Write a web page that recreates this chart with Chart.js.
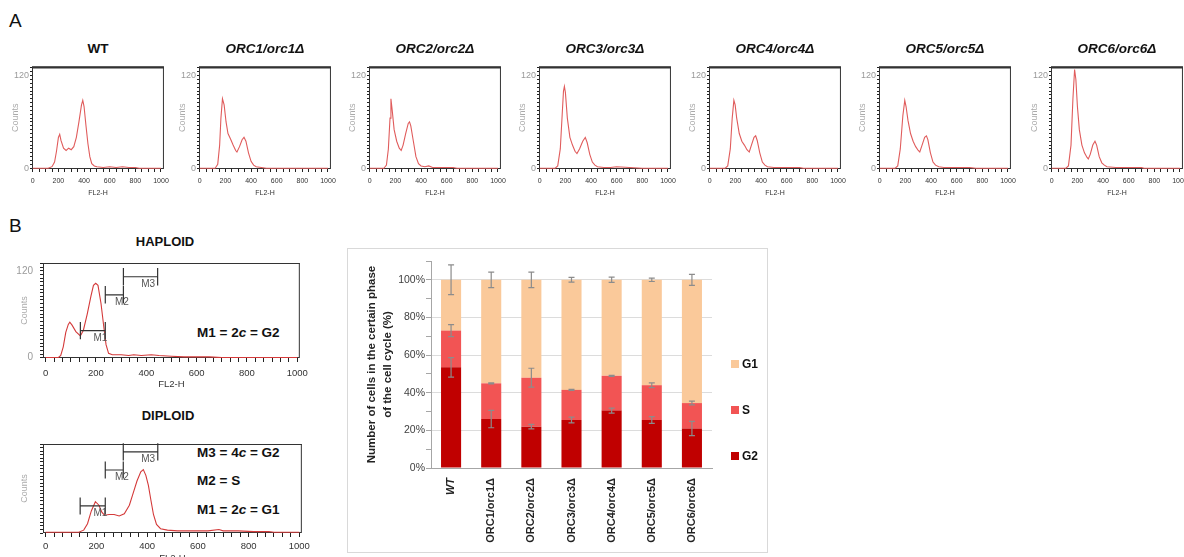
<!DOCTYPE html>
<html>
<head>
<meta charset="utf-8">
<script src="https://cdn.jsdelivr.net/npm/chart.js@4.4.1/dist/chart.umd.min.js"></script>
<style>
  body { margin:0; width:1184px; height:557px; position:relative; overflow:hidden; background:#fff;
         font-family: Arial, "Liberation Sans", sans-serif; color:#111; }
  canvas { position:absolute; }
  .c { position:absolute; white-space:nowrap; transform:translate(-50%,-50%); font-weight:bold; }
  .l { position:absolute; white-space:nowrap; transform:translateY(-50%); font-weight:bold; }
  #frame { position:absolute; left:347px; top:248px; width:421px; height:305px; border:1px solid #d9d9d9; box-sizing:border-box; }
  .sw { position:absolute; width:8px; height:8px; }
</style>
</head>
<body>
<div class="l" style="left:9px;top:21px;font-size:19px;font-weight:normal">A</div>
<div class="l" style="left:9px;top:226px;font-size:19px;font-weight:normal">B</div>
<div id="frame"></div>

<div class="c" style="left:165px;top:241px;font-size:13px">HAPLOID</div>
<div class="c" style="left:168px;top:415px;font-size:13px">DIPLOID</div>
<div class="l" style="left:197px;top:332px;font-size:13.5px">M1 = 2<i>c</i> = G2</div>
<div class="l" style="left:197px;top:452px;font-size:13.5px">M3 = 4<i>c</i> = G2</div>
<div class="l" style="left:197px;top:480px;font-size:13.5px">M2 = S</div>
<div class="l" style="left:197px;top:509px;font-size:13.5px">M1 = 2<i>c</i> = G1</div>

<canvas id="bars" width="419" height="303" style="left:348px;top:249px"></canvas>
<canvas id="haploid" width="309" height="140" style="left:5px;top:250px"></canvas>
<canvas id="diploid" width="309" height="134" style="left:5px;top:431px"></canvas>

<script>
// strains (panel A titles and bar categories)
const strains = ['WT', 'ORC1/orc1Δ', 'ORC2/orc2Δ', 'ORC3/orc3Δ', 'ORC4/orc4Δ', 'ORC5/orc5Δ', 'ORC6/orc6Δ'];

// FL2-H histograms, [channel, counts]
const wtHist = [[0,0],[120,0],[150,2],[170,8],[185,22],[200,40],[210,44],[220,36],[240,26],[260,23],[280,26],[300,24],[320,28],[340,40],[360,60],[380,82],[390,88],[400,80],[415,55],[430,32],[445,15],[460,6],[480,3],[500,2],[550,1],[600,2],[650,1],[700,2],[750,1],[800,1],[830,0],[1000,0]];
const orc1Hist = [[0,0],[120,0],[140,5],[155,30],[165,65],[177,90],[190,82],[205,60],[220,45],[240,38],[260,30],[280,23],[290,21],[310,28],[330,37],[345,40],[360,35],[380,20],[400,9],[420,4],[440,2],[480,1],[520,0],[1000,0]];
const orc2Hist = [[0,0],[110,0],[130,4],[145,25],[158,65],[165,90],[175,75],[190,50],[210,35],[230,26],[245,23],[260,30],[280,45],[300,58],[310,60],[320,55],[340,35],[360,15],[380,6],[400,3],[430,2],[460,3],[490,1],[550,1],[600,1],[650,1],[680,0],[1000,0]];
const orc3Hist = [[0,0],[120,0],[140,3],[160,25],[175,70],[185,100],[192,106],[200,98],[215,65],[235,40],[255,30],[275,22],[290,19],[310,25],[335,35],[355,40],[370,33],[390,18],[410,8],[430,4],[450,2],[500,1],[550,1],[600,2],[700,1],[800,0],[1000,0]];
const orc4Hist = [[0,0],[120,0],[140,3],[160,25],[175,65],[188,88],[198,82],[210,65],[230,45],[250,35],[270,30],[290,24],[308,21],[325,30],[345,40],[358,42],[370,36],[390,20],[410,8],[430,4],[450,2],[500,1],[600,1],[700,1],[730,0],[1000,0]];
const orc5Hist = [[0,0],[120,0],[140,3],[160,25],[180,68],[195,88],[205,80],[220,62],[240,45],[260,35],[280,28],[300,23],[312,21],[330,30],[350,40],[364,42],[375,37],[395,20],[415,8],[435,4],[460,2],[500,1],[600,1],[700,1],[750,0],[1000,0]];
const orc6Hist = [[0,0],[110,0],[130,3],[150,30],[165,90],[178,128],[188,115],[200,80],[215,50],[235,30],[255,20],[275,14],[285,12],[300,18],[320,30],[337,35],[350,30],[370,15],[390,7],[410,4],[430,2],[500,1],[600,1],[700,1],[720,0],[1000,0]];
const haploidHist = [[0,0],[50,0],[60,3],[70,15],[80,35],[90,46],[96,49],[105,45],[120,36],[138,30],[150,38],[165,60],[180,85],[190,100],[199,103],[208,100],[220,75],[232,40],[240,18],[250,6],[265,4],[300,4],[330,3],[350,4],[380,3],[420,4],[450,3],[500,2],[550,1],[600,1],[650,1],[700,0],[1000,0]];
const diploidHist = [[0,0],[130,0],[150,3],[165,12],[180,30],[196,43],[210,38],[222,28],[232,24],[250,25],[270,25],[290,23],[310,26],[330,38],[345,55],[360,72],[375,85],[385,88],[395,80],[405,66],[415,45],[425,25],[437,11],[453,5],[480,3],[520,2],[580,2],[640,2],[683,4],[700,2],[760,2],[820,1],[880,1],[900,0],[1000,0]];

// marker gates (channel range, height in counts)
const haploidGates = [{name:'M1', from:138, to:237, y:37.5}, {name:'M2', from:237, to:309, y:87}, {name:'M3', from:309, to:445, y:112}];
const diploidGates = [{name:'M1', from:136, to:235, y:37}, {name:'M2', from:235, to:306, y:87.5}, {name:'M3', from:306, to:442, y:113}];

// cell cycle phases (%), stacked bottom to top
const g2Pct = [53.5, 26, 22, 25.5, 30.5, 25.5, 21];
const sPct  = [19.5, 19, 26, 16, 18.5, 18.5, 13.5];
const g1Pct = [27, 55, 52, 58.5, 51, 56, 65.5];
const g2Err = [5.2, 4.6, 1.2, 1.5, 1.3, 1.8, 3.8];
const sErr  = [3.2, 0.3, 5, 0.3, 0.3, 1.25, 1];
const g1Err = [7.9, 4.1, 4.1, 1.25, 1.4, 0.9, 2.9];

Chart.defaults.font.family = 'Arial, "Liberation Sans", sans-serif';

const boxPlugin = {
  id: 'box',
  beforeDatasetsDraw(chart, args, opts) {
    const { ctx, chartArea: a } = chart;
    ctx.save();
    ctx.strokeStyle = opts.color || '#333';
    ctx.lineWidth = 1;
    ctx.strokeRect(a.left + 0.5, a.top + 0.5, a.right - a.left - 1, a.bottom - a.top - 1);
    if (opts.topWidth) {
      ctx.lineWidth = opts.topWidth;
      ctx.beginPath();
      ctx.moveTo(a.left, a.top + opts.topWidth / 2);
      ctx.lineTo(a.right, a.top + opts.topWidth / 2);
      ctx.stroke();
    }
    ctx.restore();
  }
};

const gatePlugin = {
  id: 'gates',
  afterDatasetsDraw(chart, args, opts) {
    const list = opts.list || [];
    if (!list.length) return;
    const { ctx, scales: { x, y } } = chart;
    ctx.save();
    ctx.strokeStyle = '#333';
    ctx.lineWidth = 1.2;
    ctx.fillStyle = '#555';
    ctx.font = '10px Arial, "Liberation Sans", sans-serif';
    ctx.textAlign = 'center';
    ctx.textBaseline = 'middle';
    list.forEach(g => {
      const x0 = x.getPixelForValue(g.from), x1 = x.getPixelForValue(g.to);
      const yy = y.getPixelForValue(g.y);
      const yt = y.getPixelForValue(g.y + 12), yb = y.getPixelForValue(g.y - 12);
      ctx.beginPath();
      ctx.moveTo(x0, yy); ctx.lineTo(x1, yy);
      ctx.moveTo(x0, yt); ctx.lineTo(x0, yb);
      ctx.moveTo(x1, yt); ctx.lineTo(x1, yb);
      ctx.stroke();
      ctx.fillText(g.name, x.getPixelForValue((g.from + g.to) / 2 + 30), y.getPixelForValue(g.y - 10));
    });
    ctx.restore();
  }
};

function histogram(canvas, points, o) {
  return new Chart(canvas, {
    type: 'line',
    data: {
      datasets: [{
        data: points.map(p => ({ x: p[0], y: p[1] })),
        borderColor: o.line, borderWidth: 1.1, pointRadius: 0, tension: 0, fill: false
      }]
    },
    options: {
      responsive: false, animation: false, events: [],
      layout: { padding: { left: 0, top: 2, right: o.padRight, bottom: 0 } },
      plugins: {
        legend: { display: false }, tooltip: { enabled: false },
        box: { color: '#333', topWidth: o.topWidth },
        gates: { list: o.gates || [] }
      },
      scales: {
        x: {
          type: 'linear', min: o.xMin, max: o.xMax,
          afterFit: s => { s.height = o.xH; },
          border: { display: false },
          grid: { drawOnChartArea: false, tickLength: o.xTick, color: '#222' },
          ticks: {
            stepSize: o.xStep, precision: 3, autoSkip: false, includeBounds: false,
            maxRotation: 0, minRotation: 0, padding: o.xPad, color: '#333', font: { size: o.xFont },
            callback: v => Math.abs(v / 200 - Math.round(v / 200)) < 1e-4 ? String(Math.round(v)) : ''
          },
          title: { display: true, text: 'FL2-H', color: '#333', font: { size: o.xTitleFont }, padding: { top: 0, bottom: o.xTitlePad } }
        },
        y: {
          min: o.yMin, max: o.yMax,
          afterFit: s => { s.width = o.yW; },
          border: { display: false },
          grid: { drawOnChartArea: false, tickLength: o.yTick, color: '#222' },
          ticks: {
            stepSize: 5, autoSkip: false, includeBounds: false, padding: o.yPad, color: '#9a9a9a', font: { size: o.yFont },
            callback: v => (v === 0 || v === 120) ? String(v) : ''
          },
          title: { display: true, text: 'Counts', color: '#aaa', font: { size: o.yTitleFont }, padding: { top: o.yTitlePad, bottom: 0 } }
        }
      }
    },
    plugins: [boxPlugin, gatePlugin]
  });
}

// panel A
const aHists = [wtHist, orc1Hist, orc2Hist, orc3Hist, orc4Hist, orc5Hist, orc6Hist];
const aLefts = [32, 199, 369, 539, 709, 879, 1051];
aHists.forEach((h, i) => {
  const cv = document.createElement('canvas');
  cv.width = 174; cv.height = 139;
  cv.style.left = (aLefts[i] - 32) + 'px';
  cv.style.top = '60px';
  document.body.appendChild(cv);
  const t = document.createElement('div');
  t.className = 'c';
  t.style.left = (aLefts[i] + 66) + 'px';
  t.style.top = '48px';
  t.style.fontSize = '13.5px';
  t.style.fontStyle = i === 0 ? 'normal' : 'italic';
  t.textContent = strains[i];
  document.body.appendChild(t);
  histogram(cv, h, {
    line: '#e05c5c', padRight: 10, topWidth: 2,
    xMin: -6, xMax: 1023, xH: 30, xTick: 3, xStep: 50, xPad: 5, xFont: 7, xTitleFont: 7, xTitlePad: 2,
    yMin: -1, yMax: 132, yW: 32, yTick: 2, yPad: 1, yFont: 9, yTitleFont: 9, yTitlePad: 10.5
  });
});

// panel B histograms
histogram(document.getElementById('haploid'), haploidHist, {
  line: '#d43a3a', padRight: 12, topWidth: 1, gates: haploidGates,
  xMin: -10.5, xMax: 1010, xH: 32, xTick: 4, xStep: 100 / 3, xPad: 6, xFont: 9.5, xTitleFont: 9.5, xTitlePad: 0,
  yMin: -0.5, yMax: 131, yW: 38, yTick: 3, yPad: 7, yFont: 10, yTitleFont: 9, yTitlePad: 14.5
});
histogram(document.getElementById('diploid'), diploidHist, {
  line: '#d43a3a', padRight: 12, topWidth: 1, gates: diploidGates,
  xMin: -10.5, xMax: 1010, xH: 32, xTick: 4, xStep: 100 / 3, xPad: 4, xFont: 9.5, xTitleFont: 9.5, xTitlePad: 1,
  yMin: -1, yMax: 124, yW: 38, yTick: 3, yPad: 7, yFont: 10, yTitleFont: 9, yTitlePad: 14.5
});

// stacked bar chart with error bars
const errorBars = {
  id: 'errorBars',
  afterDatasetsDraw(chart) {
    const { ctx, scales: { y } } = chart;
    ctx.save();
    ctx.strokeStyle = '#8c8c8c';
    ctx.lineWidth = 1.2;
    chart.data.datasets.forEach((ds, i) => {
      chart.getDatasetMeta(i).data.forEach((bar, j) => {
        let top = 0;
        for (let k = 0; k <= i; k++) top += chart.data.datasets[k].data[j];
        const y0 = y.getPixelForValue(top - ds.err[j]), y1 = y.getPixelForValue(top + ds.err[j]);
        ctx.beginPath();
        ctx.moveTo(bar.x, y0); ctx.lineTo(bar.x, y1);
        ctx.moveTo(bar.x - 3, y0); ctx.lineTo(bar.x + 3, y0);
        ctx.moveTo(bar.x - 3, y1); ctx.lineTo(bar.x + 3, y1);
        ctx.stroke();
      });
    });
    ctx.restore();
  }
};

const barChart = new Chart(document.getElementById('bars'), {
  type: 'bar',
  data: {
    labels: strains,
    datasets: [
      { label: 'G2', data: g2Pct, err: g2Err, backgroundColor: '#c00000' },
      { label: 'S',  data: sPct,  err: sErr,  backgroundColor: '#f25454' },
      { label: 'G1', data: g1Pct, err: g1Err, backgroundColor: '#fac99a' }
    ]
  },
  options: {
    responsive: false, animation: false, events: [],
    layout: { padding: { left: 12, top: 12, right: 55, bottom: 0 } },
    datasets: { bar: { barPercentage: 0.5, categoryPercentage: 1 } },
    plugins: { legend: { display: false }, tooltip: { enabled: false } },
    scales: {
      x: {
        stacked: true,
        afterFit: s => { s.height = 84; },
        grid: { display: false },
        border: { display: true, color: '#a6a6a6' },
        ticks: {
          minRotation: 90, maxRotation: 90, padding: 2, color: '#222', autoSkip: false,
          font: c => ({ size: 11, weight: 'bold', style: c.index === 0 ? 'italic' : 'normal' })
        }
      },
      y: {
        stacked: true, min: 0, max: 110,
        afterFit: s => { s.width = 71; },
        border: { display: true, color: '#a6a6a6' },
        grid: {
          tickLength: 5, tickColor: '#a6a6a6',
          color: c => (c.tick.value > 0 && c.tick.value % 20 === 0) ? '#dcdcdc' : 'rgba(0,0,0,0)'
        },
        ticks: {
          stepSize: 10, autoSkip: false, padding: 1, color: '#404040', font: { size: 10.5 },
          callback: v => v % 20 === 0 ? v + '%' : ''
        },
        title: {
          display: true, color: '#222',
          text: ['Number of cells in the certain phase', 'of the cell cycle (%)'],
          font: { size: 11.5, weight: 'bold', lineHeight: 1.39 },
          padding: { top: 4, bottom: 0 }
        }
      }
    }
  },
  plugins: [errorBars]
});

// legend, top to bottom: G1, S, G2
barChart.data.datasets.slice().reverse().forEach((ds, k) => {
  const yc = 364 + k * 46;
  const sw = document.createElement('div');
  sw.className = 'sw';
  sw.style.left = '731px';
  sw.style.top = (yc - 4) + 'px';
  sw.style.background = ds.backgroundColor;
  document.body.appendChild(sw);
  const tx = document.createElement('div');
  tx.className = 'l';
  tx.style.left = '742px';
  tx.style.top = yc + 'px';
  tx.style.fontSize = '12px';
  tx.textContent = ds.label;
  document.body.appendChild(tx);
});
</script>
</body>
</html>
